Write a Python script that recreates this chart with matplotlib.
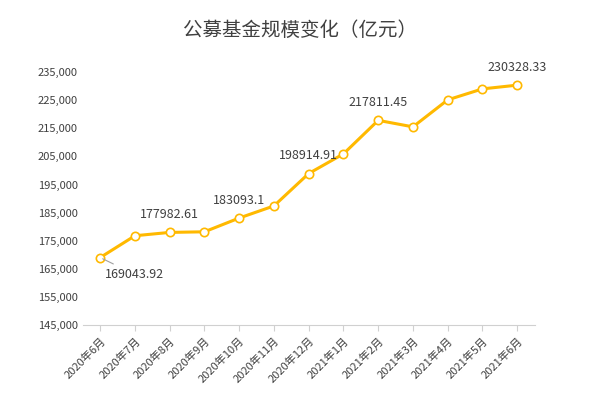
import matplotlib
matplotlib.use("Agg")
import matplotlib.pyplot as plt

plt.rcParams["font.family"] = ["Noto Sans CJK SC", "DejaVu Sans"]

months = ["2020年6月", "2020年7月", "2020年8月", "2020年9月", "2020年10月", "2020年11月",
          "2020年12月", "2021年1月", "2021年2月", "2021年3月", "2021年4月", "2021年5月", "2021年6月"]
values = [169043.92, 176800, 177982.61, 178200, 183093.1, 187400,
          198914.91, 205900, 217811.45, 215500, 225100, 229000, 230328.33]
labelled = {0: "169043.92", 2: "177982.61", 4: "183093.1", 6: "198914.91", 8: "217811.45", 12: "230328.33"}
yticks = list(range(145000, 235001, 10000))

fig, ax = plt.subplots(figsize=(6, 4), dpi=100)
fig.subplots_adjust(left=0.138, right=0.891, top=0.82, bottom=0.187)
x = range(len(months))
ax.plot(x, values, color="#FFB900", lw=2.2, marker="o", ms=6,
        mfc="white", mec="#FFB900", mew=1.2, zorder=3)

for i, txt in labelled.items():
    if i == 0:
        ax.annotate(txt, (i, values[i]), xytext=(i + 0.15, values[i] - 6000),
                    fontsize=9, color="#404040", ha="left", va="center",
                    arrowprops=dict(arrowstyle="-", color="#a0a0a0", lw=0.8))
    else:
        ax.annotate(txt, (i, values[i]), xytext=(0, 8), textcoords="offset points",
                    fontsize=9, color="#404040", ha="center", va="bottom")

ax.set_ylim(145000, 235000)
ax.set_yticks(yticks)
ax.set_yticklabels([f"{v:,}" for v in yticks], fontsize=8, color="#404040")
ax.set_xticks(list(x))
ax.set_xticklabels(months, rotation=45, ha="right", rotation_mode="anchor", fontsize=8, color="#404040")
ax.set_xlim(-0.5, len(months) - 0.5)
for s in ["top", "right", "left"]:
    ax.spines[s].set_visible(False)
ax.spines["bottom"].set_color("#d0d0d0")
ax.tick_params(axis="y", length=0)
ax.tick_params(axis="x", length=4, color="#d0d0d0")
fig.suptitle("公募基金规模变化（亿元）", fontsize=14, color="#404040", y=0.95)
fig.savefig("out.png")
